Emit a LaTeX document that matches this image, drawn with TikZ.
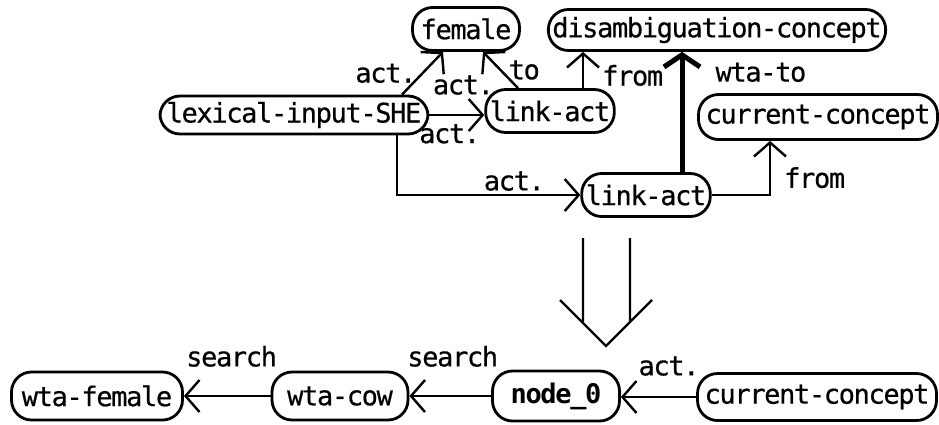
\documentclass[tikz,border=0pt]{standalone}
\usepackage{fontspec}
\newfontfamily\netfont[LetterSpace=-5, FakeBold=0.5]{DejaVu Sans Mono}
\newfontfamily\netboldfont[LetterSpace=-5]{DejaVu Sans Mono Bold}
\usepackage{tikz}
\usetikzlibrary{arrows.meta}

\begin{document}
\begin{tikzpicture}[x=1pt, y=-1pt,
    concept/.style={shape=rectangle, rounded corners=20pt, draw=black, line width=2.8pt,
        minimum height=43pt, inner xsep=4pt, inner ysep=2pt,
        font=\netfont\fontsize{27}{28}\selectfont},
    arr/.style={line width=2.4pt, -{Straight Barb[length=14pt,width=32pt]}},
    wtaarr/.style={line width=5pt, -{Straight Barb[length=12pt,width=36pt]}},
    lbl/.style={font=\netfont\fontsize{27}{28}\selectfont, inner sep=1pt}]
    \useasboundingbox (0,0) rectangle (939,424);
    % upper net
    \node[concept, minimum width=268pt, minimum height=38pt] (lexshe) at (294,115) {lexical-input-SHE};
    \node[concept, minimum width=107pt] (female) at (466,29) {female};
    \node[concept, minimum width=337pt, minimum height=41pt] (disamb) at (717,30) {disambiguation-concept};
    \node[concept, minimum width=126pt] (linkA) at (550,111) {link-act};
    \node[concept, minimum width=239pt, minimum height=45pt] (curA) at (818,117) {current-concept};
    \node[concept, minimum width=126pt] (linkB) at (646,195) {link-act};
    \draw[arr] ([xshift=108pt]lexshe.north) -- ([xshift=-23pt]female.south)
        node[lbl, midway, left=4pt] {act.};
    \draw[arr] ([xshift=-32pt]linkA.north) -- ([xshift=17pt]female.south)
        node[lbl, midway, right=6pt] {to};
    \draw[arr] (lexshe.east) -- (lexshe.east -| linkA.west)
        node[lbl, pos=0.62, above=18pt] {act.}
        node[lbl, pos=0.37, below=7pt] {act.};
    \draw[arr] ([xshift=103pt]lexshe.south) |- (linkB.west)
        node[lbl, pos=0.82, above=2pt] {act.};
    \draw[arr] ([xshift=33pt]linkA.north) -- ([xshift=33pt]linkA.north |- disamb.south)
        node[lbl, pos=0.35, right=17pt] {from};
    \draw[wtaarr] ([xshift=36pt]linkB.north) -- ([xshift=36pt]linkB.north |- disamb.south)
        node[lbl, pos=0.83, right=30pt] {wta-to};
    \draw[arr] (linkB.east) -| ([xshift=-48pt]curA.south)
        node[lbl, pos=0.66, right=12pt] {from};
    % big arrow
    \draw[line width=2.4pt] (583,238) -- (583,323) (630,238) -- (630,322)
        (560,300) -- (606,346) -- (652,300);
    % lower chain
    \node[concept, minimum width=171pt, minimum height=48pt] (wtafem) at (97,396) {wta-female};
    \node[concept, minimum width=136pt, minimum height=48pt] (wtacow) at (340,396) {wta-cow};
    \node[concept, minimum width=127pt, minimum height=50pt, font=\netboldfont\fontsize{27}{28}\selectfont] (node0) at (556,396) {node\_0};
    \node[concept, minimum width=239pt, minimum height=47pt] (curB) at (817,397) {current-concept};
    \draw[arr] (curB.west) -- (curB.west -| node0.east)
        node[lbl, pos=0.36, above=19pt] {act.};
    \draw[arr] (node0.west) -- (wtacow.east)
        node[lbl, pos=0.47, above=27pt] {search};
    \draw[arr] (wtacow.west) -- (wtafem.east)
        node[lbl, pos=0.45, above=27pt] {search};
\end{tikzpicture}
\end{document}
